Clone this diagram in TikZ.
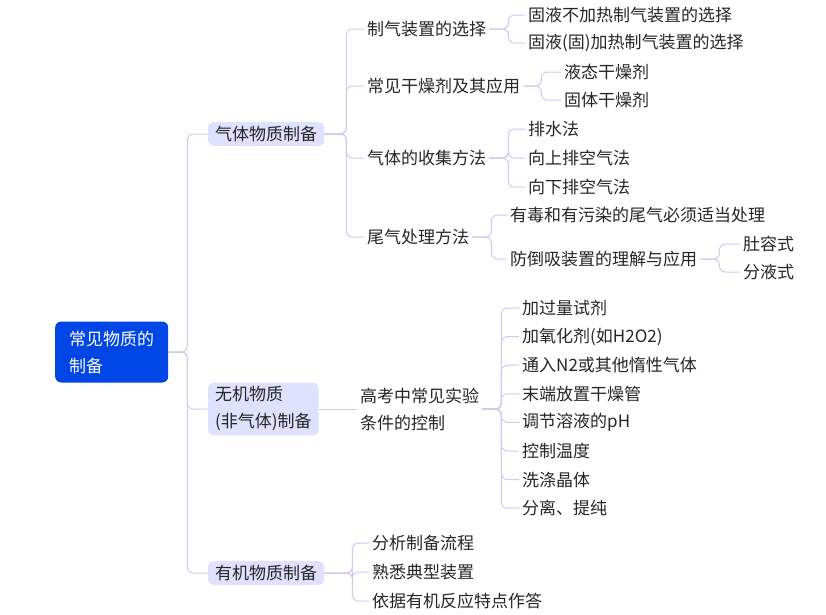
\documentclass[tikz,border=0pt]{standalone}
\usepackage{fontspec}
\setmainfont{Noto Sans CJK SC}
\begin{document}
\begin{tikzpicture}[x=1pt,y=-1pt,
  every node/.style={font=\fontsize{17pt}{27pt}\selectfont,text=black!85},
  leaf/.style={anchor=west,inner xsep=3pt,inner ysep=2pt},
  lvone/.style={anchor=west,fill=blue!12!white,rounded corners=5pt,inner xsep=7pt,inner ysep=4pt,align=left},
  rootbox/.style={anchor=west,fill=blue!70!cyan!90!black,text=white,rounded corners=6pt,inner xsep=14pt,minimum height=61pt,align=left},
  link/.style={draw=black!30!blue!20!white,line width=1pt,rounded corners=6pt}]
\useasboundingbox (0,0) rectangle (826,614);
\fill[white] (0,0) rectangle (826,614);
\node[rootbox] (r) at (55,352) {常见物质的\\制备};
\node[lvone] (g) at (208,134) {气体物质制备};
\node[lvone] (i) at (208,409) {无机物质\\(非气体)制备};
\node[lvone] (o) at (208,573) {有机物质制备};
\foreach \c in {g,i,o} \draw[link] (r.east) -- ++(19,0) |- (\c.west);
% gas
\node[leaf] (g1) at (364,29) {制气装置的选择};
\node[leaf] (g2) at (364,86) {常见干燥剂及其应用};
\node[leaf] (g3) at (364,158) {气体的收集方法};
\node[leaf] (g4) at (364,237) {尾气处理方法};
\foreach \c in {g1,g2,g3,g4} \draw[link] (g.east) -- ++(22,0) |- (\c.west);
\node[leaf] (g11) at (525,15) {固液不加热制气装置的选择};
\node[leaf] (g12) at (525,43) {固液(固)加热制气装置的选择};
\foreach \c in {g11,g12} \draw[link] (g1.east) -- ++(19,0) |- (\c.west);
\node[leaf] (g21) at (561,72) {液态干燥剂};
\node[leaf] (g22) at (561,100) {固体干燥剂};
\foreach \c in {g21,g22} \draw[link] (g2.east) -- ++(18,0) |- (\c.west);
\node[leaf] (g31) at (525,129) {排水法};
\node[leaf] (g32) at (525,158) {向上排空气法};
\node[leaf] (g33) at (525,187) {向下排空气法};
\foreach \c in {g31,g32,g33} \draw[link] (g3.east) -- ++(19,0) |- (\c.west);
\node[leaf] (g41) at (507,215) {有毒和有污染的尾气必须适当处理};
\node[leaf] (g42) at (507,259) {防倒吸装置的理解与应用};
\foreach \c in {g41,g42} \draw[link] (g4.east) -- ++(19,0) |- (\c.west);
\node[leaf] (g421) at (740,244) {肚容式};
\node[leaf] (g422) at (740,272) {分液式};
\foreach \c in {g421,g422} \draw[link] (g42.east) -- ++(19,0) |- (\c.west);
% inorganic
\node[leaf,align=left] (i1) at (357,409) {高考中常见实验\\条件的控制};
\draw[link] (i.east) -- (i1.west);
\foreach \t [count=\k] in {加过量试剂,加氧化剂(如H2O2),通入N2或其他惰性气体,末端放置干燥管,调节溶液的pH,控制温度,洗涤晶体,分离、提纯}
  \node[leaf] (i1\k) at (519,{308+(\k-1)*28.6}) {\t};
\foreach \k in {1,...,8} \draw[link] (i1.east) -- ++(19,0) |- (i1\k.west);
% organic
\node[leaf] (o1) at (369,543) {分析制备流程};
\node[leaf] (o2) at (369,572) {熟悉典型装置};
\node[leaf] (o3) at (369,601) {依据有机反应特点作答};
\foreach \c in {o1,o2,o3} \draw[link] (o.east) -- ++(28,0) |- (\c.west);
\end{tikzpicture}
\end{document}
